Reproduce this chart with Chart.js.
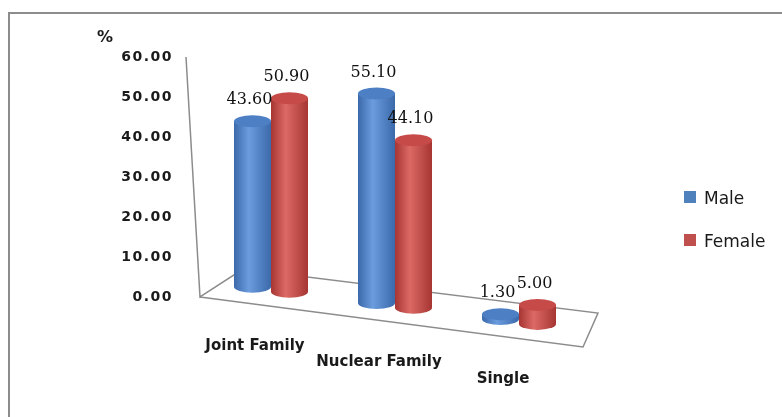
<!DOCTYPE html>
<html lang="en">
<head>
  <meta charset="UTF-8" />
  <meta name="viewport" content="width=device-width, initial-scale=1.0" />
  <title>Family type by gender</title>
  <style>
    html, body { margin: 0; padding: 0; background: #fff; }
    #wrap { position: relative; width: 782px; height: 417px; }
  </style>
</head>
<body>
  <div id="wrap"><canvas id="familyChart"></canvas></div>
  <script src="https://cdn.jsdelivr.net/npm/chart.js@4.4.1/dist/chart.umd.min.js"></script>
  <script>
    const categories = ['Joint Family', 'Nuclear Family', 'Single'];
    const maleValues = [43.60, 55.10, 1.30];
    const femaleValues = [50.90, 44.10, 5.00];
    const yTicks = [0, 10, 20, 30, 40, 50, 60];

    // cylinder shading per series: edge, highlight, lid
    const shades = [
      { flat: '#4f81bd', dark: '#3b69aa', light: '#6b9cde', top: '#4d7fc4' },
      { flat: '#c0504d', dark: '#a63533', light: '#dc6964', top: '#c64a48' }
    ];

    const LINE = '#8c8c8c';
    const SLOPE = 0.13;     // floor runs down to the right
    const DEPTH = 17;       // bars stand a bit behind the front edge
    const SHRINK = 0.95;    // bars sit further back than the value axis
    const RY = 6;           // ellipse height of the cylinder caps

    function drawCylinder(ctx, cx, top, bottom, rx, s) {
      const g = ctx.createLinearGradient(cx - rx, 0, cx + rx, 0);
      g.addColorStop(0, s.dark);
      g.addColorStop(0.4, s.light);
      g.addColorStop(1, s.dark);
      ctx.fillStyle = g;
      ctx.beginPath();
      ctx.moveTo(cx - rx, top);
      ctx.lineTo(cx - rx, bottom);
      ctx.ellipse(cx, bottom, rx, RY, 0, Math.PI, 0, true);
      ctx.lineTo(cx + rx, top);
      ctx.closePath();
      ctx.fill();
      ctx.fillStyle = s.top;
      ctx.beginPath();
      ctx.ellipse(cx, top, rx, RY, 0, 0, Math.PI * 2);
      ctx.fill();
    }

    const depthPlugin = {
      id: 'depth',
      beforeDraw(chart) {
        const ctx = chart.ctx;
        ctx.save();
        ctx.strokeStyle = LINE;
        ctx.lineWidth = 2;
        ctx.strokeRect(9, 13, chart.width, chart.height);
        ctx.restore();
        ctx.letterSpacing = '1.5px';
      },
      beforeDatasetsDraw(chart) {
        const ctx = chart.ctx;
        ctx.letterSpacing = '0px';
        const { left, right } = chart.chartArea;
        const y = chart.scales.y;
        const y0 = y.getPixelForValue(0);
        const yTop = y.getPixelForValue(yTicks[yTicks.length - 1]);
        ctx.save();
        ctx.strokeStyle = LINE;
        ctx.lineWidth = 1.5;
        ctx.beginPath();
        ctx.moveTo(left - 23, yTop);
        ctx.lineTo(left - 9, y0);
        ctx.lineTo(left + 34, y0 - 28);
        ctx.lineTo(right + 17, y0 + 16);
        ctx.lineTo(right + 2, y0 + 50);
        ctx.lineTo(left - 9, y0);
        ctx.stroke();

        // axis unit
        ctx.fillStyle = '#1a1a1a';
        ctx.font = 'bold 16px "DejaVu Sans"';
        ctx.textAlign = 'center';
        ctx.textBaseline = 'alphabetic';
        ctx.fillText('%', left - 104, 42);
        ctx.restore();
      },
      afterDatasetsDraw(chart) {
        const ctx = chart.ctx;
        const { left } = chart.chartArea;
        const y0 = chart.scales.y.getPixelForValue(0);
        const originX = left - 9;
        const labels = [];
        ctx.save();
        chart.data.labels.forEach((cat, i) => {
          chart.data.datasets.forEach((ds, d) => {
            const bar = chart.getDatasetMeta(d).data[i];
            const p = bar.getProps(['x', 'y', 'base', 'width'], true);
            const cx = p.x;
            const rx = p.width / 2;
            const bottom = y0 + SLOPE * (cx - originX) - DEPTH;
            const top = bottom - (p.base - p.y) * SHRINK;
            drawCylinder(ctx, cx, top, bottom, rx, shades[d]);
            labels.push({ text: ds.data[i].toFixed(2), x: cx - 3, y: top - 17 });
          });
        });

        // value labels
        ctx.fillStyle = '#111';
        ctx.font = '16px "DejaVu Serif"';
        ctx.textAlign = 'center';
        ctx.textBaseline = 'alphabetic';
        labels.forEach(l => ctx.fillText(l.text, l.x, l.y));

        // category labels along the front edge of the floor
        const xs = chart.scales.x;
        ctx.fillStyle = '#1a1a1a';
        ctx.font = 'bold 15px "DejaVu Sans"';
        chart.data.labels.forEach((cat, i) => {
          const x = xs.getPixelForValue(i) - 16;
          ctx.fillText(cat, x, y0 + 0.1305 * (x - originX) + 46);
        });

        // legend
        ctx.font = '17px "DejaVu Sans"';
        ctx.textAlign = 'left';
        chart.data.datasets.forEach((ds, d) => {
          const ly = 191 + d * 43;
          ctx.fillStyle = shades[d].flat;
          ctx.fillRect(684, ly, 12, 12);
          ctx.fillStyle = '#1a1a1a';
          ctx.fillText(ds.label, 704, ly + 13);
        });
        ctx.restore();
      }
    };

    new Chart(document.getElementById('familyChart'), {
      type: 'bar',
      data: {
        labels: categories,
        datasets: [
          { label: 'Male', data: maleValues, backgroundColor: 'rgba(0,0,0,0)', borderWidth: 0 },
          { label: 'Female', data: femaleValues, backgroundColor: 'rgba(0,0,0,0)', borderWidth: 0 }
        ]
      },
      options: {
        responsive: true,
        maintainAspectRatio: false,
        animation: false,
        barThickness: 37,
        layout: { padding: { top: 57, left: 109, right: 201, bottom: 120 } },
        plugins: { legend: { display: false }, tooltip: { enabled: false } },
        scales: {
          x: { display: false },
          y: {
            min: 0,
            max: 60,
            grid: { display: false, drawTicks: false },
            border: { display: false },
            afterFit: s => { s.width = 100; },
            afterBuildTicks: s => { s.ticks = yTicks.map(v => ({ value: v })); },
            ticks: {
              padding: 36,
              color: '#1a1a1a',
              font: { family: 'DejaVu Sans', size: 14, weight: 'bold' },
              callback: v => Number(v).toFixed(2)
            }
          }
        }
      },
      plugins: [depthPlugin]
    });
  </script>
</body>
</html>
